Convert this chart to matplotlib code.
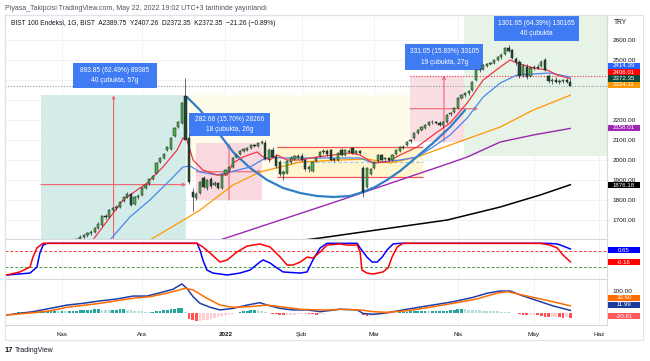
import matplotlib
matplotlib.use("Agg")
import matplotlib.pyplot as plt
from matplotlib.patches import Rectangle
import numpy as np

plt.rcParams["font.family"] = ["Liberation Sans", "DejaVu Sans"]

# %% data (bar 0 = first trading day of Kasım 2021)
month_labels = ["Kas", "Ara", "2022", "Şub", "Mar", "Nis", "May", "Haz"]
month_bars = [0, 22, 45, 66, 86, 109, 130, 148]
price_ticks = [1700, 1800, 1900, 2000, 2100, 2200, 2300, 2400, 2500, 2600]
hidden_ticks = [2300, 2400]  # covered by the value tags in the reference

opens = [1540, 1555, 1570, 1565, 1590, 1605, 1615, 1625, 1635, 1640,
         1660, 1675, 1720, 1715, 1750, 1760, 1765, 1795, 1815, 1830,
         1780, 1815, 1825, 1860, 1880, 1905, 1935, 1990, 2010, 2050,
         2055, 2120, 2165, 2185, 2320, 2110, 1840, 1810, 1835, 1910,
         1860, 1905, 1875, 1885, 1860, 1930, 1945, 1965, 2015, 2030,
         2045, 2050, 2060, 2075, 2070, 2085, 2085, 2005, 2050, 2015,
         1990, 1930, 1935, 1990, 2005, 2020, 2020, 2000, 1955, 1945,
         1995, 2020, 2040, 2045, 2050, 2005, 2000, 2050, 2025, 2040,
         2060, 2035, 2045, 1960, 1865, 1930, 1960, 1995, 2025, 2005,
         2010, 2000, 2030, 2045, 2065, 2075, 2095, 2110, 2135, 2150,
         2160, 2175, 2190, 2190, 2185, 2175, 2190, 2230, 2240, 2260,
         2310, 2325, 2335, 2350, 2400, 2450, 2455, 2470, 2480, 2485,
         2500, 2515, 2530, 2560, 2550, 2505, 2490, 2425, 2465, 2420,
         2460, 2465, 2470, 2500, 2420, 2395, 2400, 2390, 2395, 2400,
         2389.75]
highs = [1560, 1575, 1585, 1595, 1610, 1625, 1630, 1640, 1650, 1665,
         1690, 1725, 1730, 1755, 1765, 1775, 1795, 1820, 1840, 1835,
         1820, 1830, 1865, 1880, 1910, 1925, 1990, 2015, 2035, 2070,
         2115, 2165, 2195, 2290, 2410, 2130, 1860, 1840, 1895, 1920,
         1905, 1915, 1895, 1890, 1930, 1955, 1970, 2015, 2030, 2050,
         2060, 2065, 2080, 2080, 2090, 2100, 2100, 2060, 2065, 2030,
         2000, 1950, 2000, 2020, 2025, 2030, 2035, 2010, 1975, 1995,
         2015, 2045, 2055, 2055, 2055, 2010, 2040, 2060, 2055, 2055,
         2065, 2050, 2050, 1970, 1965, 1960, 1995, 2030, 2030, 2015,
         2015, 2030, 2055, 2070, 2075, 2095, 2105, 2140, 2155, 2170,
         2180, 2195, 2200, 2195, 2195, 2195, 2230, 2240, 2265, 2315,
         2330, 2340, 2350, 2395, 2455, 2460, 2480, 2485, 2490, 2505,
         2520, 2535, 2565, 2575, 2555, 2515, 2500, 2480, 2480, 2470,
         2475, 2480, 2500, 2510, 2430, 2410, 2415, 2405, 2405, 2410,
         2407.26]
lows = [1530, 1545, 1560, 1560, 1585, 1600, 1605, 1615, 1625, 1635,
        1655, 1670, 1705, 1710, 1740, 1750, 1760, 1790, 1810, 1770,
        1775, 1805, 1820, 1855, 1875, 1900, 1930, 1985, 2005, 2045,
        2050, 2115, 2160, 2180, 2110, 1880, 1745, 1800, 1830, 1860,
        1850, 1860, 1870, 1855, 1855, 1925, 1940, 1960, 2010, 2025,
        2040, 2045, 2055, 2065, 2065, 2080, 2000, 1990, 2010, 1960,
        1920, 1900, 1930, 1980, 2000, 2005, 1995, 1945, 1940, 1940,
        1990, 2015, 2030, 2020, 1995, 1990, 1995, 2020, 2020, 2035,
        2030, 2030, 2030, 1815, 1860, 1925, 1955, 1990, 1995, 1995,
        1995, 1995, 2025, 2040, 2055, 2070, 2085, 2105, 2130, 2145,
        2155, 2170, 2180, 2180, 2170, 2165, 2185, 2220, 2235, 2255,
        2305, 2315, 2325, 2345, 2395, 2440, 2450, 2465, 2475, 2480,
        2495, 2505, 2525, 2540, 2505, 2475, 2410, 2415, 2405, 2415,
        2450, 2455, 2465, 2445, 2385, 2380, 2385, 2380, 2385, 2385,
        2372.35]
closes = [1555, 1570, 1565, 1590, 1605, 1615, 1625, 1635, 1640, 1660,
          1680, 1720, 1715, 1750, 1760, 1765, 1790, 1815, 1830, 1775,
          1815, 1820, 1860, 1875, 1905, 1920, 1985, 2010, 2030, 2065,
          2110, 2160, 2190, 2285, 2100, 1890, 1815, 1830, 1890, 1865,
          1900, 1870, 1885, 1860, 1925, 1950, 1965, 2010, 2025, 2045,
          2055, 2060, 2075, 2070, 2085, 2090, 2005, 2050, 2015, 1970,
          1930, 1940, 1995, 2010, 2020, 2015, 2000, 1955, 1965, 1990,
          2010, 2040, 2045, 2030, 2000, 2000, 2035, 2025, 2050, 2045,
          2035, 2045, 2035, 1840, 1960, 1955, 1990, 2025, 2000, 2010,
          2000, 2025, 2050, 2065, 2060, 2090, 2100, 2135, 2150, 2165,
          2175, 2190, 2190, 2185, 2175, 2190, 2225, 2235, 2260, 2310,
          2325, 2335, 2345, 2390, 2450, 2450, 2475, 2480, 2485, 2500,
          2515, 2525, 2560, 2545, 2510, 2490, 2420, 2470, 2415, 2460,
          2465, 2460, 2490, 2450, 2395, 2400, 2390, 2395, 2400, 2392,
          2372.35]

# moving averages, read as (bar, price) vertices
red_ma_bar = [8.5, 16.8, 23.4, 27.8, 31.7, 33.3, 34.4, 36.1, 38.8, 42.7, 45.5, 47.1, 49.9,
              53.7, 55.4, 57.3, 59.2, 62, 65.6, 70.2, 74.7, 79.3, 82.1, 85.7, 89.5, 93.1,
              97.8, 102.2, 106.9, 111.6, 116, 120.7, 123.4, 125.3, 129.8, 133.6, 136.4, 140]
red_ma_val = [1600, 1800, 1885, 1965, 2050, 2110, 2100, 2000, 1950, 1925, 1925, 1985, 2015,
              2040, 2015, 2000, 2025, 2000, 2000, 2015, 2025, 2035, 2025, 1985, 1990, 2025,
              2065, 2125, 2185, 2285, 2400, 2465, 2500, 2485, 2460, 2450, 2425, 2406.01]
blue_ma_bar = [13.2, 18.7, 24.2, 29.8, 33.3, 35.3, 38, 42.7, 46.3, 51.8, 55.1, 57.3, 60.9,
               65.6, 74.7, 82.1, 85.7, 93.1, 97.8, 102.2, 106.9, 111.6, 116, 120.7, 125.3,
               129.8, 134.4, 140]
blue_ma_val = [1600, 1715, 1800, 1900, 1965, 1970, 1940, 1925, 1940, 1965, 2000, 2015, 2010,
               2010, 2010, 2010, 1985, 2000, 2015, 2065, 2125, 2210, 2315, 2385, 2425,
               2430, 2435, 2414.39]
orange_ma_bar = [24.2, 34.4, 38, 47.1, 54.5, 65.6, 76.6, 84, 90.4, 97.8, 106.9, 120.7, 129.8, 140]
orange_ma_val = [1600, 1710, 1750, 1875, 1940, 1990, 2000, 2005, 1985, 2015, 2075, 2165, 2250, 2324.11]
purple_ma_bar = [43.5, 75.2, 106.9, 111.6, 120.7, 129.8, 140]
purple_ma_val = [1600, 1790, 1985, 2015, 2090, 2125, 2158.01]
black_ma_bar = [60, 71.1, 106.1, 120.7, 131.7, 140]
black_ma_val = [1585, 1610, 1700, 1765, 1825, 1876.18]

# cup drawing
cup_bar = [34.4, 38, 42.1, 47.1, 51.8, 56.5, 60.9, 65.6, 70.2, 74.7, 79.3, 82.9, 86.2,
           89.5, 93.1, 96.7, 102.2, 106.9, 111]
cup_val = [2315, 2250, 2160, 2040, 1960, 1900, 1860, 1835, 1820, 1815, 1820, 1840, 1865,
           1900, 1945, 2000, 2085, 2165, 2250]

# price range measurements: left bar, right bar, low, high, arrow bar, text
meas_x0 = [-5.8, 37, 95.9, 110.7]
meas_x1 = [34.2, 55, 114.6, 150.7]
meas_lo = [1430, 1800, 2091, 2021.5]
meas_hi = [2324, 2082.66, 2422, 3323]
meas_mid = [14.2, 46, 105.2, 130.7]
meas_text = ["893.85 (62.49%) 89385\n40 çubukta, 57g",
             "282.66 (15.70%) 28266\n18 çubukta, 26g",
             "331.05 (15.83%) 33105\n19 çubukta, 27g",
             "1301.65 (64.39%) 130165\n40 çubukta"]
label_box = [(3.0, 26.2, 2360, 2485), (35, 57.3, 2120, 2235),
             (94.5, 116, 2450, 2580), (119, 142.4, 2595, 2720)]

# oscillator (top lower pane)
osc_blue_bar = [-15.2, -8.8, -6.9, -6.1, -5.2, -4.1, 37.2, 38, 38.8, 39.9, 41.6, 45.5, 49,
                51.8, 54.5, 55.4, 57.3, 59.2, 60.9, 65.6, 67.5, 69.1, 71.1, 73, 81.3, 82.1,
                84, 85.4, 86.8, 88.2, 89.5, 91.2, 93.1, 133.6, 136.4, 138, 140]
osc_blue_val = [-0.98, -0.86, -0.48, 0.39, 0.89, 1, 1, 0.58, -0.04, -0.67, -0.86, -0.98, -0.86,
                -0.67, -0.17, -0.04, -0.23, -0.54, -0.79, -0.86, -0.79, -0.04, 0.71, 1, 1, 0.71,
                0.14, -0.17, -0.17, 0.14, 0.58, 0.96, 1, 1, 0.96, 0.83, 0.65]
osc_red_bar = [-15.2, -11.6, -8.8, -8, -6.9, -5.2, 37.2, 38.8, 40.8, 43.5, 45.5, 48.2, 51,
               54.5, 57.3, 60.1, 62, 63.6, 65.6, 67.5, 69.1, 71.1, 73, 76.6, 78.5, 81.3, 82.1,
               82.6, 84, 85.7, 88.4, 89.8, 90.9, 92.3, 93.9, 131.7, 134.4, 136.4, 138, 140]
osc_red_val = [-0.98, -0.79, -0.48, 0.14, 0.71, 1, 1, 0.77, 0.39, -0.17, -0.04, 0.46, 0.83,
               0.96, 0.77, 0.14, -0.36, -0.36, -0.17, 0.14, 0.08, 0.46, 0.89, 0.96, 0.89, 0.89,
               0.46, -0.67, -0.86, -0.92, -0.79, -0.54, 0.14, 0.77, 1, 1, 0.89, 0.71, 0.27, -0.16]

# MACD pane
macd_bar = [-15.2, -8, -3.3, 1.4, 5.8, 10.5, 15.2, 19.6, 23.4, 27, 30.6, 33, 34.4, 36.1, 38,
            40.8, 43.5, 47.1, 51, 54.5, 56.5, 60.1, 63.6, 67.5, 71.1, 76.6, 81.3, 82.9, 85.7,
            89.5, 95, 100.5, 107.7, 113.2, 117.1, 120.7, 123.4, 126.2, 130.9, 135.3, 140]
macd_val = [-9, 6, 21, 36, 44, 55, 64, 77, 77, 92, 108, 132, 112, 74, 44, 26, 14, 21, 36, 47,
            36, 21, 14, 14, 6, 17, 14, -2, -6, 1, 17, 32, 51, 71, 90, 100, 100, 82, 56, 32, 11.99]
signal_bar = [-15.2, -8, -3.3, 1.4, 10.5, 19.6, 24.2, 28.9, 33.9, 36.1, 39.9, 43.5, 47.1, 51.8,
              56.5, 61.5, 65.6, 70.2, 73.8, 76.6, 82.1, 85.7, 89.5, 95, 101.4, 107.7, 114.3,
              119.8, 122.6, 128.1, 135.3, 140]
signal_val = [-9, 1, 10, 26, 44, 67, 74, 90, 112, 105, 67, 36, 26, 29, 36, 26, 17, 14, 14, 17,
              14, 6, 3, 10, 26, 44, 64, 90, 97, 77, 51, 32.6]
hist_start = -15
hist_vals = [1, 2, 2, 3, 4, 5, 6, 7, 8, 9,
             10, 10, 11, 11, 10, 10, 9, 9, 10, 11,
             12, 13, 14, 15, 16, 16, 15, 14, 13, 14,
             15, 16, 16, 15, 13, 11, 9, 7, 6, 5,
             6, 8, 10, 12, 14, 16, 18, 21, 25, 5,
             -25, -34, -36, -35, -33, -30, -27, -23, -19, -15,
             -11, -7, -3, 1, 4, 7, 10, 12, 13, 12,
             9, 5, 1, -3, -6, -8, -9, -9, -8, -7,
             -6, -4, -3, -4, -6, -8, -6, -3, -1, 0,
             1, 1, 2, 2, 1, 1, 0, -2, -10, -14,
             -13, -11, -9, -7, -5, -3, -1, 1, 3, 5,
             6, 7, 8, 8, 8, 8, 7, 7, 7, 7,
             8, 10, 12, 14, 16, 17, 16, 15, 14, 13,
             12, 11, 10, 9, 8, 7, 6, 5, 3, 1,
             -2, -5, -8, -10, -9, -8, -10, -13, -16, -18,
             -17, -16, -19, -21, -20, -20.61]

# right-hand value tags: text, colour, pixel row of tag centre
price_tags = [("2414.39", "#2962ff", 65.8), ("2406.01", "#ff0000", 72.2),
              ("2372.35", "#0d4a3a", 78.6), ("2324.11", "#ff9800", 85.0),
              ("2158.01", "#9c27b0", 128.0), ("1876.18", "#000000", 185.2),
              ("0.65", "#0000ff", 250.0), ("-0.16", "#ff0000", 262.0),
              ("32.60", "#ff6d00", 297.8), ("11.99", "#1e3a9a", 304.6),
              ("-20.61", "#ff5b5b", 316.0)]

# %% figure
W, H = 650, 361
fig = plt.figure(figsize=(W / 100, H / 100), dpi=100)
fig.patch.set_facecolor("white")


def rect(x0, y0, x1, y1):
    return [x0 / W, 1 - y1 / H, (x1 - x0) / W, (y1 - y0) / H]


ax = fig.add_axes(rect(5, 15, 607, 239))
ax_osc = fig.add_axes(rect(5, 239, 607, 279), sharex=ax)
ax_macd = fig.add_axes(rect(5, 279, 607, 325), sharex=ax)

grid_c = "#eef0f5"
txt_c = "#131722"
for a in (ax, ax_osc, ax_macd):
    for s in a.spines.values():
        s.set_color("#d6d9e0")
        s.set_linewidth(0.8)
    a.tick_params(length=0, labelsize=4.6, colors=txt_c)
    for mb in month_bars:
        a.axvline(mb, color=grid_c, lw=0.6, zorder=0)
ax.set_xlim(-15.7, 150.1)

# main pane
ax.set_ylim(1605, 2725)
ax.yaxis.tick_right()
ax.set_yticks(price_ticks)
ax.set_yticklabels(["" if p in hidden_ticks else f"{p:.2f}" for p in price_ticks])
ax.tick_params(axis="y", pad=4)
for p in price_ticks:
    ax.axhline(p, color=grid_c, lw=0.6, zorder=0)
plt.setp(ax.get_xticklabels(), visible=False)
plt.setp(ax_osc.get_xticklabels(), visible=False)

# background zones
ax.add_patch(Rectangle((34.2, 1910), 95.9 - 34.2, 2325 - 1910, fc="#fffbea", ec="none", zorder=0.3))
ax.add_patch(Rectangle((59.2, 1915), 99.4 - 59.2, 2065 - 1915, fc="#fff5cf", ec="none", zorder=0.4))
ax.hlines([2065, 1915], 59.2, 99.4, color="#f2545b", lw=0.9, zorder=1.5)
ax.hlines(1990, 59.2, 99.4, color="#9ccbf0", lw=0.8, ls=(0, (3, 2)), zorder=1.5)

meas_fc = ["#d4ece8", "#f9d9e0", "#f9d9e0", "#e6f3e6"]
meas_lc = ["#f0646e", "#f0646e", "#f0646e", "#5cb895"]
for k in range(4):
    x0, x1, lo, hi = meas_x0[k], meas_x1[k], meas_lo[k], meas_hi[k]
    ax.add_patch(Rectangle((x0, lo), x1 - x0, hi - lo, fc=meas_fc[k], ec="none",
                           alpha=0.85 if k == 2 else 1, zorder=0.5 + 0.01 * k))
    mid_p = (lo + hi) / 2
    ax.annotate("", xy=(x1, mid_p), xytext=(x0, mid_p),
                arrowprops=dict(arrowstyle="->", color=meas_lc[k], lw=0.8,
                                shrinkA=0, shrinkB=0, mutation_scale=5), zorder=1.2)
    ax.annotate("", xy=(meas_mid[k], hi), xytext=(meas_mid[k], lo),
                arrowprops=dict(arrowstyle="->", color=meas_lc[k], lw=0.8,
                                shrinkA=0, shrinkB=0, mutation_scale=5), zorder=1.2)

# horizontal dotted lines
ax.axhline(closes[-1], color="#9598a1", lw=0.8, ls=(0, (1, 1.5)), zorder=1.3)
ax.hlines(meas_hi[2], meas_x0[2], 150.1, color="#f23645", lw=0.8, ls=(0, (1, 1.5)), zorder=1.3)

# moving averages and cup
ax.plot(black_ma_bar, black_ma_val, color="#000000", lw=1.1, zorder=2)
ax.plot(purple_ma_bar, purple_ma_val, color="#9c27b0", lw=1.0, zorder=2)
ax.plot(orange_ma_bar, orange_ma_val, color="#ff9800", lw=0.9, zorder=2)
ax.plot(cup_bar, cup_val, color="#2f7fc6", lw=1.6, zorder=2.2, solid_capstyle="round")
ax.plot(blue_ma_bar, blue_ma_val, color="#4a84ee", lw=0.9, zorder=2.3)
ax.plot(red_ma_bar, red_ma_val, color="#f23645", lw=0.9, zorder=2.4)

# measurement labels
for k in range(4):
    bx0, bx1, by0, by1 = label_box[k]
    ax.add_patch(Rectangle((bx0, by0), bx1 - bx0, by1 - by0, fc="#3f7bf2", ec="none", zorder=2.6))
    ax.text((bx0 + bx1) / 2, (by0 + by1) / 2, meas_text[k], color="white", fontsize=4.8,
            ha="center", va="center", linespacing=1.7, zorder=2.7)

# candles
bars = np.arange(len(closes))
o = np.array(opens)
c = np.array(closes)
up = c >= o
ax.vlines(bars, lows, highs, color="#2a2e39", lw=0.5, zorder=3)
ax.bar(bars, np.maximum(np.abs(c - o), 2), bottom=np.minimum(o, c), width=0.62,
       color=np.where(up, "#4caf50", "#1d4a39"), edgecolor="#1b1f1d", linewidth=0.35, zorder=3.1)

ax.text(0.01, 0.96, "BIST 100 Endeksi, 1G, BIST  A2389.75  Y2407.26  D2372.35  K2372.35  \u221221.26 (\u22120.89%)",
        transform=ax.transAxes, fontsize=4.8, color=txt_c, va="center", ha="left", zorder=5)

# oscillator pane
ax_osc.set_ylim(-1.23, 1.27)
ax_osc.set_yticks([])
ax_osc.axhline(0.5, color="#f44336", lw=0.7, ls=(0, (3, 2)), zorder=1)
ax_osc.axhline(-0.5, color="#43a047", lw=0.7, ls=(0, (3, 2)), zorder=1)
ax_osc.plot(osc_blue_bar, osc_blue_val, color="#0000ff", lw=1.1, zorder=2)
ax_osc.plot(osc_red_bar, osc_red_val, color="#ff0000", lw=1.1, zorder=2.1)

# MACD pane
ax_macd.set_ylim(-54.5, 154.5)
ax_macd.yaxis.tick_right()
ax_macd.set_yticks([100])
ax_macd.set_yticklabels(["100.00"])
ax_macd.tick_params(axis="y", pad=4)
hb = np.arange(hist_start, hist_start + len(hist_vals))
hv = np.array(hist_vals, dtype=float)
prev = np.concatenate([[hv[0]], hv[:-1]])
hcol = np.where(hv >= 0, np.where(hv >= prev, "#26a69a", "#b2dfdb"),
                np.where(hv < prev, "#ff5252", "#ffcdd2"))
ax_macd.bar(hb, hv, width=0.75, color=hcol, zorder=1)
ax_macd.plot(macd_bar, macd_val, color="#1f3fa6", lw=1.1, zorder=2)
ax_macd.plot(signal_bar, signal_val, color="#ff6d00", lw=1.1, zorder=2.1)
ax_macd.set_xticks(month_bars)
ax_macd.set_xticklabels(month_labels)
ax_macd.tick_params(axis="x", pad=5)
for lab in ax_macd.get_xticklabels():
    if lab.get_text() == "2022":
        lab.set_fontweight("bold")

# outer frame and price-axis tags
fig.add_artist(Rectangle((5 / W, 1 - 340 / H), 638 / W, 325 / H, transform=fig.transFigure,
                         fill=False, ec="#e0e3eb", lw=0.8))
for t, col, yc in price_tags:
    fig.add_artist(Rectangle((608 / W, 1 - (yc + 3.1) / H), 32 / W, 6.2 / H,
                             transform=fig.transFigure, fc=col, ec="none", zorder=4))
    fig.text(624 / W, 1 - yc / H, t, color="white", fontsize=4.4, ha="center", va="center", zorder=5)
fig.text(614 / W, 1 - 23 / H, "TRY", color=txt_c, fontsize=4.8, ha="left", va="center")

fig.text(5 / W, 1 - 8 / H, "Piyasa_Takipcisi TradingView.com, May 22, 2022 19:02 UTC+3 tarihinde yayınlandı",
         color="#50535e", fontsize=5, ha="left", va="center")
fig.text(5 / W, 1 - 351 / H, "17", color="#131722", fontsize=5.5, fontweight="bold", ha="left", va="center")
fig.text(15 / W, 1 - 351 / H, "TradingView", color="#131722", fontsize=5, ha="left", va="center")

fig.savefig("out.png", dpi=100, facecolor="white")
